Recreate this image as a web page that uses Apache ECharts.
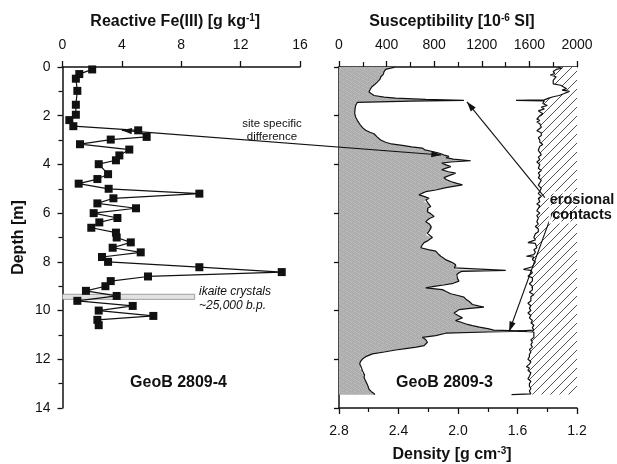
<!DOCTYPE html>
<html>
<head>
<meta charset="utf-8">
<script src="https://cdn.jsdelivr.net/npm/echarts@6/dist/echarts.min.js"></script>
<style>
  html, body { margin: 0; padding: 0; background: #fff; }
  #chart { width: 617px; height: 464px; }
</style>
</head>
<body>
<div id="chart"></div>
<script>
// ---- GeoB 2809-4: reactive Fe(III), g/kg, by depth (m)
const feDepth = [0.1, 0.29, 0.48, 0.98, 1.55, 1.96, 2.18, 2.43, 2.6, 2.87, 2.98, 3.17, 3.39, 3.63, 3.83, 3.99,
  4.4, 4.6, 4.79, 5.0, 5.2, 5.39, 5.6, 5.8, 6.0, 6.2, 6.38, 6.6, 6.8, 7.0, 7.2, 7.42, 7.61, 7.8, 8.0, 8.22,
  8.42, 8.6, 8.79, 9.0, 9.19, 9.4, 9.6, 9.81, 10.0, 10.22, 10.38, 10.6];
const feValue = [2.0, 1.13, 0.9, 1.0, 0.9, 0.9, 0.46, 0.73, 5.1, 5.67, 3.25, 1.18, 4.5, 3.83, 3.6, 2.44,
  3.07, 2.35, 1.09, 3.11, 9.22, 3.43, 2.35, 4.95, 2.1, 3.7, 2.48, 1.94, 3.6, 3.65, 4.6, 3.38, 5.27, 2.66, 3.07, 9.22,
  14.77, 5.76, 3.25, 2.89, 1.58, 3.65, 1.0, 4.73, 2.44, 6.12, 2.35, 2.44];

// ---- GeoB 2809-3: magnetic susceptibility (10^-6 SI) by depth (m)
const susDepth = [0.0, 0.06, 0.1, 0.2, 0.3, 0.41, 0.5, 0.62, 0.72, 0.82, 0.92, 1.03, 1.1, 1.17, 1.24, 1.28, 1.33, 1.37,
  1.4, 1.45, 1.58, 1.71, 1.9, 2.06, 2.2, 2.26, 2.4, 2.5, 2.6, 2.68, 2.74, 2.88, 3.0, 3.09, 3.16, 3.22, 3.28, 3.33,
  3.4, 3.47, 3.52, 3.58, 3.63, 3.67, 3.72, 3.78, 3.85, 3.9, 3.95, 4.02, 4.09, 4.15, 4.22, 4.3, 4.36, 4.45, 4.54,
  4.62, 4.7, 4.78, 4.84, 4.95, 5.05, 5.12, 5.18, 5.25, 5.32, 5.39, 5.46, 5.53, 5.6, 5.66, 5.73, 5.8, 5.87, 5.94,
  6.02, 6.08, 6.14, 6.22, 6.28, 6.35, 6.45, 6.55, 6.63, 6.72, 6.83, 6.9, 7.0, 7.08, 7.15, 7.21, 7.3, 7.42, 7.5,
  7.56, 7.65, 7.77, 7.85, 7.92, 7.97, 8.05, 8.12, 8.18, 8.25, 8.31, 8.35, 8.39, 8.45, 8.52, 8.59, 8.68, 8.79,
  8.88, 8.95, 9.0, 9.07, 9.14, 9.22, 9.31, 9.38, 9.45, 9.55, 9.62, 9.7, 9.75, 9.82, 9.86, 9.91, 9.96, 10.03,
  10.1, 10.2, 10.3, 10.41, 10.47, 10.52, 10.57, 10.62, 10.68, 10.75, 10.8, 10.84, 10.88, 10.93, 11.03, 11.1,
  11.2, 11.3, 11.38, 11.44, 11.5, 11.56, 11.62, 11.7, 11.78, 11.88, 11.99, 12.1, 12.19, 12.3, 12.38, 12.47,
  12.55, 12.65, 12.74, 12.85, 12.95, 13.02, 13.12, 13.23, 13.32, 13.4, 13.46];
const susValue = [470, 465, 392, 378, 372, 350, 345, 322, 300, 275, 262, 252, 262, 294, 380, 476, 728, 1050,
  600, 155, 140, 135, 132, 140, 155, 163, 182, 200, 224, 260, 294, 322, 350, 392, 440, 533, 610, 700,
  720, 785, 830, 869, 890, 924, 900, 960, 1107, 940, 863, 900, 939, 900, 863, 920, 980, 930, 882,
  900, 939, 990, 1037, 900, 813, 729, 700, 672, 720, 757, 730, 715, 750, 760, 771, 745, 760, 743,
  770, 780, 799, 760, 745, 729, 760, 775, 785, 760, 743, 729, 785, 760, 740, 715, 700, 687, 750,
  813, 830, 855, 880, 900, 924, 960, 980, 995, 970, 980, 1401, 1030, 1008, 990, 980, 995, 1008,
  960, 880, 813, 729, 869, 900, 939, 1000, 1050, 1070, 1092, 1100, 1121, 1180, 1218, 1100, 1008, 990,
  966, 1000, 1037, 980, 1020, 1050, 1080, 1121, 1180, 1260, 1300, 1580, 1250, 897, 813, 700,
  730, 743, 730, 715, 650, 560, 476, 380, 281, 230, 197, 180, 174, 185, 175, 197,
  190, 215, 210, 220, 230, 238, 245, 252, 270, 294, 300];

// ---- GeoB 2809-3: wet bulk density (g/cm^3) by depth (m)
const denDepth = [0.0, 0.05, 0.1, 0.18, 0.27, 0.33, 0.4, 0.48, 0.55, 0.62, 0.69, 0.75, 0.82, 0.89, 0.95, 1.0, 1.03,
  1.1, 1.17, 1.22, 1.28, 1.35, 1.37, 1.39, 1.44, 1.5, 1.58, 1.65, 1.72, 1.8, 1.85, 1.92, 2.0, 2.06, 2.14, 2.2,
  2.26, 2.33, 2.4, 2.47, 2.54, 2.62, 2.7, 2.81, 2.9, 3.0, 3.09, 3.18, 3.25, 3.33, 3.42, 3.5, 3.6, 3.7, 3.8,
  3.9, 4.0, 4.08, 4.16, 4.25, 4.35, 4.45, 4.55, 4.65, 4.75, 4.85, 4.98, 5.1, 5.2, 5.3, 5.4, 5.53, 5.62, 5.7,
  5.8, 5.9, 6.0, 6.1, 6.2, 6.35, 6.45, 6.55, 6.65, 6.76, 6.85, 6.92, 7.0, 7.1, 7.18, 7.21, 7.24, 7.32, 7.42,
  7.5, 7.6, 7.7, 7.77, 7.8, 7.9, 8.0, 8.1, 8.2, 8.28, 8.31, 8.35, 8.45, 8.52, 8.59, 8.65, 8.79, 8.9, 9.0,
  9.07, 9.15, 9.25, 9.35, 9.42, 9.5, 9.6, 9.7, 9.8, 9.9, 10.0, 10.1, 10.2, 10.3, 10.41, 10.5, 10.6, 10.7,
  10.8, 10.84, 10.88, 10.95, 11.1, 11.2, 11.3, 11.4, 11.5, 11.6, 11.7, 11.8, 11.9, 12.0, 12.1, 12.2, 12.3,
  12.36, 12.45, 12.55, 12.7, 12.8, 12.9, 13.0, 13.1, 13.2, 13.3, 13.37, 13.42, 13.45];
const denValue = [1.33, 1.30, 1.34, 1.36, 1.35, 1.38, 1.34, 1.33, 1.36, 1.35, 1.36, 1.31, 1.29, 1.27, 1.30, 1.25, 1.26,
  1.29, 1.32, 1.36, 1.39, 1.42, 1.61, 1.42, 1.41, 1.43, 1.40, 1.44, 1.42, 1.46, 1.46, 1.43, 1.45, 1.44, 1.47, 1.45,
  1.47, 1.45, 1.46, 1.44, 1.45, 1.47, 1.44, 1.44, 1.46, 1.45, 1.45, 1.43, 1.45, 1.44, 1.46, 1.45, 1.44, 1.46, 1.45,
  1.47, 1.45, 1.46, 1.46, 1.44, 1.46, 1.45, 1.46, 1.44, 1.45, 1.46, 1.44, 1.45, 1.46, 1.44, 1.46, 1.45, 1.47, 1.45,
  1.46, 1.47, 1.45, 1.47, 1.46, 1.47, 1.46, 1.48, 1.46, 1.46, 1.48, 1.47, 1.49, 1.48, 1.49, 1.53, 1.48, 1.48, 1.47,
  1.49, 1.48, 1.49, 1.54, 1.49, 1.50, 1.48, 1.49, 1.50, 1.49, 1.56, 1.51, 1.50, 1.51, 1.53, 1.50, 1.50, 1.52, 1.50,
  1.51, 1.50, 1.52, 1.49, 1.51, 1.50, 1.51, 1.53, 1.51, 1.52, 1.51, 1.53, 1.51, 1.52, 1.50, 1.51, 1.49, 1.50,
  1.49, 1.60, 1.49, 1.50, 1.49, 1.51, 1.50, 1.51, 1.50, 1.52, 1.51, 1.52, 1.52, 1.53, 1.51, 1.52, 1.54,
  1.52, 1.53, 1.51, 1.52, 1.53, 1.51, 1.52, 1.52, 1.51, 1.52, 1.51, 1.51, 1.64];

// ---- axis tick values
const depthTicks = [0, 2, 4, 6, 8, 10, 12, 14];
const feTicks = [0, 4, 8, 12, 16];
const susTicks = [0, 400, 800, 1200, 1600, 2000];
const denTicks = [1.2, 1.6, 2.0, 2.4, 2.8];

// ---- annotation anchors (data coordinates)
const ikaiteBand = { depthTop: 9.33, depthBottom: 9.54, feRight: 8.9 };

const FONT = "'Liberation Sans', Arial, Helvetica, sans-serif";
const INK = '#111';

// fine grainy grey fill for the susceptibility profile
function grainPattern() {
  const shades = [
    [172, 184, 166, 180, 176, 188, 168, 182],
    [186, 170, 182, 174, 164, 178, 186, 172],
    [168, 178, 188, 166, 184, 172, 176, 190],
    [182, 174, 170, 186, 176, 168, 184, 166],
    [176, 188, 178, 172, 190, 180, 170, 178],
    [166, 172, 184, 180, 168, 186, 178, 184],
    [184, 180, 168, 176, 182, 170, 188, 174],
    [174, 168, 186, 190, 172, 178, 166, 180]
  ];
  const n = shades.length;
  const c = document.createElement('canvas');
  c.width = n; c.height = n;
  const ctx = c.getContext('2d');
  for (let y = 0; y < n; y++) for (let x = 0; x < n; x++) {
    const g = shades[y][x];
    ctx.fillStyle = 'rgb(' + g + ',' + g + ',' + g + ')';
    ctx.fillRect(x, y, 1, 1);
  }
  return c;
}

// diagonal hatching for the density profile
function hatchPattern() {
  const s = 9;
  const c = document.createElement('canvas');
  c.width = s; c.height = s;
  const ctx = c.getContext('2d');
  ctx.fillStyle = '#fff';
  ctx.fillRect(0, 0, s, s);
  ctx.strokeStyle = '#333';
  ctx.lineWidth = 0.85;
  ctx.beginPath();
  ctx.moveTo(-1, s + 1); ctx.lineTo(s + 1, -1);
  ctx.moveTo(-1, 1); ctx.lineTo(1, -1);
  ctx.moveTo(s - 1, s + 1); ctx.lineTo(s + 1, s - 1);
  ctx.stroke();
  return c;
}

const grainFill = { image: grainPattern(), repeat: 'repeat' };
const hatchFill = { image: hatchPattern(), repeat: 'repeat' };

// polygon between a vertical profile and a fixed x baseline
function profileArea(xs, ys, base, fill) {
  return function (params, api) {
    if (params.dataIndex !== 0) return null;
    const pts = [api.coord([base, ys[0]])];
    for (let i = 0; i < xs.length; i++) pts.push(api.coord([xs[i], ys[i]]));
    pts.push(api.coord([base, ys[ys.length - 1]]));
    return { type: 'polygon', shape: { points: pts }, style: { fill: fill, stroke: null } };
  };
}

const pairs = (xs, ys) => xs.map((v, i) => [v, ys[i]]);
const tickSpec = t => ({ min: t[0], max: t[t.length - 1], interval: t[1] - t[0] });

const axisLineStyle = { color: INK, width: 1.5 };
const labelStyle = { color: INK, fontFamily: FONT, fontSize: 14 };
const nameStyle = {
  color: INK, fontFamily: FONT, fontSize: 16, fontWeight: 'bold', padding: [0, 12, 0, 0],
  rich: {
    t: { fontFamily: FONT, fontSize: 16, fontWeight: 'bold', color: INK, lineHeight: 18 },
    s: { fontFamily: FONT, fontSize: 10, fontWeight: 'bold', color: INK, lineHeight: 10, verticalAlign: 'top' }
  }
};

const chart = echarts.init(document.getElementById('chart'), null, { renderer: 'canvas' });

chart.setOption({
  animation: false,
  backgroundColor: '#fff',
  grid: [
    { left: 62.5, top: 67, width: 237.5, height: 341, containLabel: false, outerBoundsMode: 'none' },
    { left: 339, top: 67, width: 238, height: 341, containLabel: false, outerBoundsMode: 'none' }
  ],
  xAxis: [
    Object.assign({
      type: 'value', gridIndex: 0, position: 'top',
      name: '{t|Reactive Fe(III) [g kg}{s|-1}{t|]}', nameLocation: 'middle', nameGap: 36,
      nameTextStyle: nameStyle,
      axisLine: { show: true, lineStyle: axisLineStyle },
      axisTick: { show: true, length: 6, lineStyle: { color: INK, width: 1.3 } },
      axisLabel: Object.assign({ margin: 15, formatter: v => String(v) }, labelStyle),
      splitLine: { show: false }
    }, tickSpec(feTicks)),
    Object.assign({
      type: 'value', gridIndex: 1, position: 'top',
      name: '{t|Susceptibility [10}{s|-6}{t| SI]}', nameLocation: 'middle', nameGap: 36,
      nameTextStyle: nameStyle,
      axisLine: { show: true, lineStyle: axisLineStyle },
      axisTick: { show: true, length: 6, lineStyle: { color: INK, width: 1.3 } },
      minorTick: { show: true, splitNumber: 2, length: 5, lineStyle: { color: INK, width: 1.2 } },
      axisLabel: Object.assign({ margin: 15, formatter: v => String(v) }, labelStyle),
      splitLine: { show: false }
    }, tickSpec(susTicks)),
    Object.assign({
      type: 'value', gridIndex: 1, position: 'bottom', inverse: true,
      name: '{t|Density [g cm}{s|-3}{t|]}', nameLocation: 'middle', nameGap: 38,
      nameTextStyle: nameStyle,
      axisLine: { show: true, onZero: false, lineStyle: axisLineStyle },
      axisTick: { show: true, length: 6, lineStyle: { color: INK, width: 1.3 } },
      minorTick: { show: true, splitNumber: 2, length: 4, lineStyle: { color: INK, width: 1.2 } },
      axisLabel: Object.assign({ margin: 16, formatter: v => v.toFixed(1) }, labelStyle),
      splitLine: { show: false }
    }, tickSpec(denTicks))
  ],
  yAxis: [
    Object.assign({
      type: 'value', gridIndex: 0, inverse: true,
      name: 'Depth [m]', nameLocation: 'middle', nameGap: 36, nameRotate: 90,
      nameTextStyle: { color: INK, fontFamily: FONT, fontSize: 16, fontWeight: 'bold' },
      axisLine: { show: true, onZero: false, lineStyle: axisLineStyle },
      axisTick: { show: true, length: 5, lineStyle: { color: INK, width: 1.3 } },
      minorTick: { show: true, splitNumber: 2, length: 4, lineStyle: { color: INK, width: 1.2 } },
      axisLabel: Object.assign({ margin: 12, formatter: v => String(v) }, labelStyle),
      splitLine: { show: false }
    }, tickSpec(depthTicks)),
    Object.assign({
      type: 'value', gridIndex: 1, inverse: true,
      axisLine: { show: true, onZero: false, lineStyle: axisLineStyle },
      axisTick: { show: true, length: 5, lineStyle: { color: INK, width: 1.3 } },
      axisLabel: { show: false },
      splitLine: { show: false }
    }, tickSpec(depthTicks))
  ],
  series: [
    {
      name: 'Reactive Fe(III)', type: 'line', xAxisIndex: 0, yAxisIndex: 0,
      data: pairs(feValue, feDepth),
      symbol: 'rect', symbolSize: 8, showSymbol: true,
      itemStyle: { color: INK },
      lineStyle: { color: INK, width: 1.2 },
      z: 5,
      markArea: {
        silent: true,
        itemStyle: { color: '#e2e2e2', borderColor: '#8a8a8a', borderWidth: 0.8 },
        data: [[{ coord: [0, ikaiteBand.depthTop] }, { coord: [ikaiteBand.feRight, ikaiteBand.depthBottom] }]]
      }
    },
    {
      name: 'Susceptibility fill', type: 'custom', xAxisIndex: 1, yAxisIndex: 1,
      data: pairs(susValue, susDepth), encode: { x: 0, y: 1 },
      renderItem: profileArea(susValue, susDepth, 0, grainFill), z: 1, silent: true
    },
    {
      name: 'Density fill', type: 'custom', xAxisIndex: 2, yAxisIndex: 1,
      data: pairs(denValue, denDepth), encode: { x: 0, y: 1 },
      renderItem: profileArea(denValue, denDepth, 1.2, hatchFill), z: 1, silent: true
    },
    {
      name: 'Susceptibility', type: 'line', xAxisIndex: 1, yAxisIndex: 1,
      data: pairs(susValue, susDepth), showSymbol: false, symbol: 'none',
      lineStyle: { color: INK, width: 1.2 }, z: 3
    },
    {
      name: 'Density', type: 'line', xAxisIndex: 2, yAxisIndex: 1,
      data: pairs(denValue, denDepth), showSymbol: false, symbol: 'none',
      lineStyle: { color: INK, width: 1.2 }, z: 3
    }
  ]
});

// ---- arrows and labels
const FE = { seriesIndex: 0 };
const SUS = { seriesIndex: 3 };
const toPx = (finder, pt) => chart.convertToPixel(finder, pt);

function head(tip, from, len, half) {
  const dx = tip[0] - from[0], dy = tip[1] - from[1];
  const L = Math.hypot(dx, dy), ux = dx / L, uy = dy / L;
  const bx = tip[0] - ux * len, by = tip[1] - uy * len;
  return {
    type: 'polygon', z: 50,
    shape: { points: [tip, [bx - uy * half, by + ux * half], [bx + uy * half, by - ux * half]] },
    style: { fill: INK }
  };
}
function arrow(a, b, heads) {
  const els = [{ type: 'line', z: 50, shape: { x1: a[0], y1: a[1], x2: b[0], y2: b[1] }, style: { stroke: INK, lineWidth: 1.1 } }];
  if (heads.start) els.push(head(a, b, 10, 3.2));
  if (heads.end) els.push(head(b, a, 10, 3.2));
  return els;
}
function label(text, x, y, opts) {
  return {
    type: 'text', x: x, y: y, z: 60,
    style: Object.assign({
      text: text, fill: INK, fontFamily: FONT, fontSize: 12,
      align: 'center', verticalAlign: 'middle', textAlign: 'center', textVerticalAlign: 'middle'
    }, opts || {})
  };
}

const siteA = toPx(FE, [4.0, 2.6]);
const siteB = toPx(SUS, [860, 3.61]);
const eroTop = toPx(SUS, [1075, 1.43]);
const eroTopFrom = toPx(SUS, [1730, 5.36]);
const eroLow = toPx(SUS, [1430, 10.86]);
const eroLowFrom = toPx(SUS, [1795, 5.95]);

const graphics = []
  .concat(arrow(siteA, siteB, { start: true, end: true }))
  .concat(arrow(eroTopFrom, eroTop, { end: true }))
  .concat(arrow(eroLowFrom, eroLow, { end: true }))
  .concat([
    label('site specific\ndifference', 272, 130.5, { fontSize: 11.5, lineHeight: 13 }),
    label('ikaite crystals\n~25,000 b.p.', 199, 298.5, { fontSize: 12, fontStyle: 'italic', lineHeight: 13.5, align: 'left', textAlign: 'left' }),
    label('erosional\ncontacts', 582, 207.5, { fontSize: 14.5, fontWeight: 'bold', lineHeight: 15, textBorderColor: '#fff', textBorderWidth: 2 }),
    label('GeoB 2809-4', 178.5, 382.5, { fontSize: 16, fontWeight: 'bold' }),
    label('GeoB 2809-3', 444.5, 382.5, { fontSize: 16, fontWeight: 'bold' })
  ]);

chart.setOption({ graphic: graphics });
</script>
</body>
</html>
